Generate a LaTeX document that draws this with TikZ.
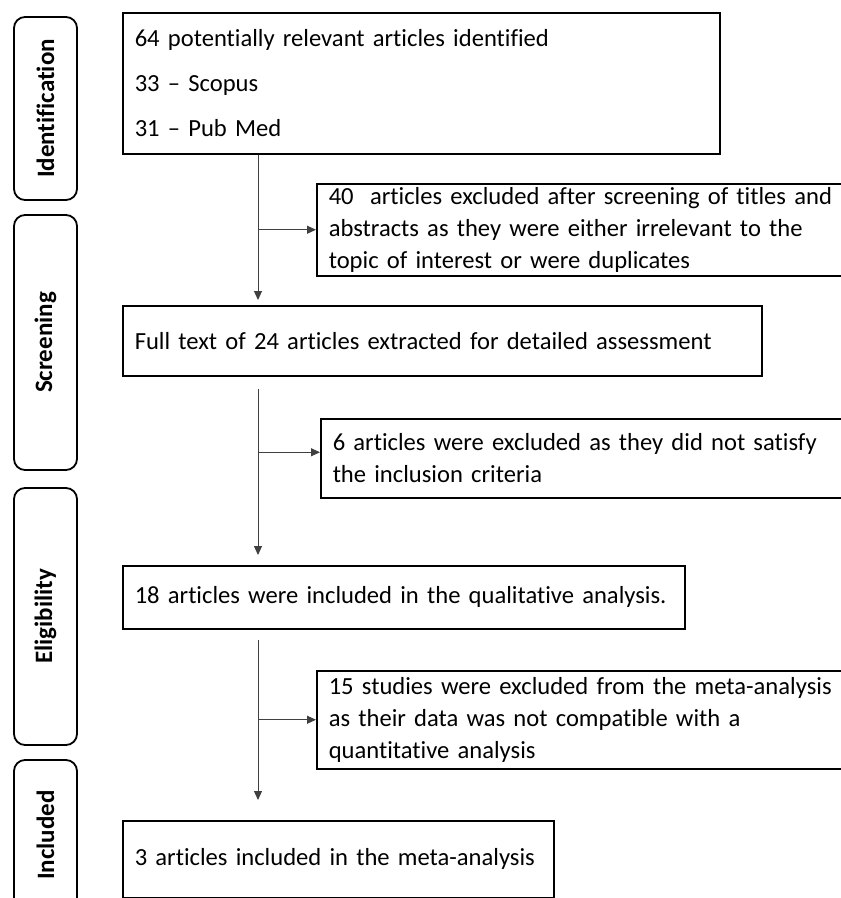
\documentclass[tikz,border=0pt]{standalone}
\usepackage{fontspec}
\setmainfont{Carlito}[Ligatures={TeX,NoCommon}]
\usetikzlibrary{arrows.meta}

\begin{document}
\begin{tikzpicture}[x=1pt,y=-1pt,
    box/.style={draw=black, line width=1.5pt, anchor=north west, inner xsep=12pt,
      align=left, font=\fontsize{24.6}{32}\selectfont},
    phase/.style={draw=black, line width=1.8pt, rounded corners=11pt, rotate=90,
      minimum height=63pt, font=\fontsize{25}{30}\selectfont\bfseries},
    flow/.style={draw=black!75, line width=1pt, -{Triangle[length=9pt,width=8pt]}}]
  % Page size of the figure
  \useasboundingbox (0,0) rectangle (841,898);
  \clip (0,0) rectangle (841,898);

  % Phase labels down the left side
  \node[phase, minimum width=183pt] (identification) at (45.5,108.5) {Identification};
  \node[phase, minimum width=255pt] (screening) at (45.5,342.5) {Screening};
  \node[phase, minimum width=257pt] (eligibility) at (45.5,616.5) {Eligibility};
  \node[phase, minimum width=150pt] (included) at (45.5,835) {Included};

  % Main boxes
  \node[box, text width=573pt, minimum height=141pt] (found) at (122,12)
    {64 potentially relevant articles identified\\[13pt] 33 -- Scopus\\[13pt] 31 -- Pub Med};
  \node[box, text width=615pt, minimum height=70pt] (fulltext) at (122,305)
    {Full text of 24 articles extracted for detailed assessment};
  \node[box, text width=538pt, minimum height=63pt] (qualitative) at (122,565)
    {18 articles were included in the qualitative analysis.};
  \node[box, text width=407pt, minimum height=77pt] (meta) at (122,820)
    {3 articles included in the meta-analysis};

  % Exclusion boxes on the right
  \node[box, text width=530pt, minimum height=92pt] (exclA) at (316,183)
    {40\ \ articles excluded after screening of titles and\\ abstracts as they were either irrelevant to the\\ topic of interest or were duplicates};
  \node[box, text width=530pt, minimum height=79pt] (exclB) at (320,418)
    {6 articles were excluded as they did not satisfy\\ the inclusion criteria};
  \node[box, text width=530pt, minimum height=98pt] (exclC) at (316,670)
    {15 studies were excluded from the meta-analysis\\ as their data was not compatible with a\\ quantitative analysis};

  % Arrows
  \coordinate (spine) at (258,0);
  \draw[flow, shorten >=5pt] (found.south -| spine) -- (fulltext.north -| spine);
  \draw[flow] (exclA.west -| spine) -- (exclA.west);
  \draw[flow, shorten <=12pt, shorten >=10pt] (fulltext.south -| spine) -- (qualitative.north -| spine);
  \draw[flow] ([yshift=6pt]exclB.west -| spine) -- ([yshift=6pt]exclB.west);
  \draw[flow, shorten <=10pt, shorten >=20pt] (qualitative.south -| spine) -- (meta.north -| spine);
  \draw[flow] (exclC.west -| spine) -- (exclC.west);
\end{tikzpicture}
\end{document}
